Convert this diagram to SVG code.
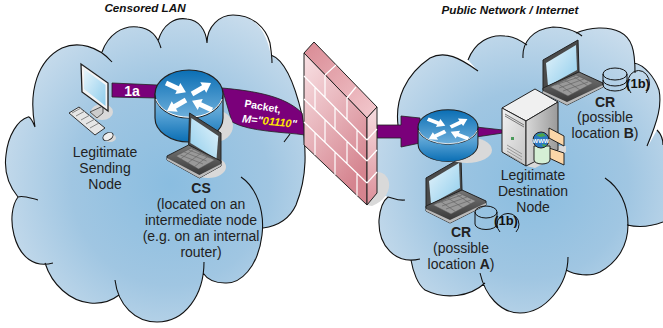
<svg xmlns="http://www.w3.org/2000/svg" xmlns:xlink="http://www.w3.org/1999/xlink" width="663" height="328" viewBox="0 0 663 328">
<style>
text{font-family:"Liberation Sans",Arial,sans-serif;font-size:14px;fill:#222;text-anchor:middle}
.b{font-weight:bold}
.t{font-weight:bold;font-style:italic;font-size:11.7px;fill:#111}
.lobe{fill:none;stroke:#111;stroke-width:1.1}
.sh{fill:#d9d9d9}
.band{fill:#7a007a;stroke:#222;stroke-width:.8}
.br{stroke:#fff;stroke-width:1.2;fill:none}
.db{fill:none;stroke:#111;stroke-width:1}
.one{font-weight:bold;font-size:13px;fill:#111}
</style>
<defs>
<radialGradient id="cl" cx=".55" cy=".55" r=".6"><stop offset="0" stop-color="#8abde0"/><stop offset=".55" stop-color="#a0c6e2"/><stop offset="1" stop-color="#c8dcec"/></radialGradient>
<linearGradient id="rt" x1="0" y1="0" x2="0" y2="1"><stop offset="0" stop-color="#0a6eb4"/><stop offset="1" stop-color="#6fb0dc"/></linearGradient>
<linearGradient id="rb" x1="0" y1="0" x2="0" y2="1"><stop offset="0" stop-color="#8cc0e2"/><stop offset=".5" stop-color="#4d9bd0"/><stop offset="1" stop-color="#0a6eb4"/></linearGradient>
<linearGradient id="scr" x1="0" y1="0" x2="1" y2="1"><stop offset="0" stop-color="#e6f4fb"/><stop offset="1" stop-color="#8fcdec"/></linearGradient>
<linearGradient id="lp" x1="0" y1="0" x2="0" y2="1"><stop offset="0" stop-color="#777"/><stop offset="1" stop-color="#333"/></linearGradient>
<linearGradient id="wf" x1="0" y1="0" x2=".5" y2="1"><stop offset="0" stop-color="#f9e2e5"/><stop offset="1" stop-color="#d5848f"/></linearGradient>
<linearGradient id="wt" x1="0" y1="0" x2="1" y2="1"><stop offset="0" stop-color="#d98a94"/><stop offset="1" stop-color="#f3c9ce"/></linearGradient>
<linearGradient id="ws" x1="0" y1="0" x2="0" y2="1"><stop offset="0" stop-color="#f6dde0"/><stop offset="1" stop-color="#dc8f99"/></linearGradient>
<linearGradient id="sv" x1="0" y1="0" x2="1" y2="0"><stop offset="0" stop-color="#d8d8d8"/><stop offset="1" stop-color="#9a9a9a"/></linearGradient>
<linearGradient id="sf" x1="0" y1="0" x2="1" y2="1"><stop offset="0" stop-color="#f2f2f2"/><stop offset="1" stop-color="#c4c4c4"/></linearGradient>
<g id="laptop">
<polygon points="0,20 35,0 36,32 3,50 0,50" fill="#4a4a4a" stroke="#222" stroke-width="1"/>
<polygon points="3,23 33,5 34,30 5,46" fill="url(#scr)"/>
<polygon points="0,48 36,32 60,43 60,47 24,65 0,53" fill="url(#lp)" stroke="#222" stroke-width="1"/>
<polygon points="7,47 33,35 50,43 25,56" fill="#999" stroke="#555" stroke-width=".5"/>
<path d="M12 45L36 37M16 48L41 39M20 51L45 42M14 43L30 54M22 40L37 50M30 36L45 46" stroke="#666" stroke-width=".7" fill="none"/>
<polygon points="0,51 24,62 60,45 60,47 24,65 0,53" fill="#bbb"/>
</g>
<g id="router">
<path d="M-34 0V24A34 24 0 0 0 34 24V0Z" fill="url(#rb)" stroke="#222" stroke-width="1.2"/>
<ellipse cx="0" cy="0" rx="34" ry="24" fill="url(#rt)" stroke="#222" stroke-width="1.2"/>
<path d="M-33 5A34 24 0 0 0 33 5" fill="none" stroke="#fff" stroke-width="1"/>
<g fill="#fff">
<polygon transform="translate(-23,-11) rotate(25)" points="0,-2.500 13,-2.500 13,-6 22,0 13,6 13,2.500 0,2.500"/>
<polygon transform="translate(3,0) rotate(-30)" points="0,-2.500 13,-2.500 13,-6 22,0 13,6 13,2.500 0,2.500"/>
<polygon transform="translate(-3,6) rotate(150)" points="0,-2.500 13,-2.500 13,-6 22,0 13,6 13,2.500 0,2.500"/>
<polygon transform="translate(23,16) rotate(205)" points="0,-2.500 13,-2.500 13,-6 22,0 13,6 13,2.500 0,2.500"/>
</g>
</g>
</defs>

<g id="cloud-left">
<path fill="url(#cl)" d="M35 127C28 90 38 60 62 48C78 41 98 46 112 62L102 52C108 35 122 25 138 27C148 28 157 34 161 48L158 41C163 24 175 17 187 19C199 20 206 30 207 43C207 26 220 15 233 15C253 15 268 28 272 63L271 55C285 60 295 85 302 115C306 150 308 175 296 205C290 218 278 226 263 228L241 177C256 187 265 210 262 235C258 268 240 284 225 283C215 283 207 279 203 273L204 262C204 295 185 322 157 322C135 322 118 305 115 280L119 295C110 302 100 304 90 303C70 301 52 285 45 263L53 263C35 268 20 258 14 235C10 220 12 205 18 197L38 200L18 197C8 185 4 170 6 155C8 135 18 120 28 117C30 116 33 122 35 127Z"/>
<path class="lobe" d="M35 127C28 90 38 60 62 48C78 41 98 46 112 62M102 52C108 35 122 25 138 27C148 28 157 34 161 48M158 41C163 24 175 17 187 19C199 20 206 30 207 43C207 26 220 15 233 15C253 15 266 28 270 43C271 50 272 56 272 63M271 55C285 60 295 85 302 115C306 150 308 175 296 205C290 218 278 226 263 228M241 177C256 187 265 210 262 235C258 268 240 284 225 283C215 283 207 279 203 273M204 262C204 295 185 322 157 322C135 322 118 305 115 280M119 295C110 302 100 304 90 303C70 301 52 285 45 263M53 263C35 268 20 258 14 235C10 220 12 205 18 197C23 195 30 198 38 200M18 197C8 185 4 170 6 155C8 135 18 120 28 117C30 116 33 122 35 127M284 142L290 134"/>
</g>
<g id="cloud-right">
<path fill="url(#cl)" d="M398 125C395 100 405 75 430 58C445 50 460 58 478 71L468 60C475 42 490 34 505 36C512 36 520 40 527 45L523 58C522 42 533 29 553 27C562 27 575 30 582 36L576 33C590 27 608 26 620 32C632 38 635 50 635 63C645 65 655 78 659 90C662 105 658 120 648 146L657 130C660 133 663 138 663 145L663 222C650 227 640 228 627 225L605 178C620 188 628 205 628 225C628 245 618 262 600 272C590 277 575 275 566 270L568 257C568 285 545 313 520 313C500 313 485 295 480 273L485 283C470 297 445 300 425 290C418 285 413 272 411 260L420 259C395 265 378 245 379 220C380 208 384 200 388 197L370 190L370 140Z"/>
<path class="lobe" d="M398 125C395 100 405 75 430 58C445 50 460 58 478 71M468 60C475 42 490 34 505 36C512 36 520 40 527 45M523 58C522 42 533 29 553 27C562 27 575 30 582 36M576 33C590 27 608 26 620 32C632 38 635 50 635 73M634 63C645 65 655 78 659 90C662 105 658 120 647 146M657 130C660 133 663 138 663 145M663 222C650 227 640 228 627 225M605 178C620 188 628 205 628 225C628 245 618 262 600 272C590 277 575 275 566 270M568 257C568 285 545 313 520 313C500 313 485 295 480 273M485 283C470 297 445 300 425 290C418 285 413 272 411 260M420 259C395 265 378 245 379 220C380 208 384 200 388 197C393 198 398 201 405 200"/>
</g>

<g id="connectors">
<polygon class="band" points="112,83 157,85 157,98 112,97"/>
<path class="band" d="M222 88C255 91 285 96 302 113L305 135C285 132 250 132 232 122Z"/>
<polygon class="band" points="377,125 401,125 401,116 420,118 420,143 401,147 401,138 377,138"/>
<polygon class="band" points="476,127 503,130 503,133 476,137"/>
<text x="132" y="96" class="b" style="fill:#fff;font-size:14px">1a</text>
<text transform="translate(262,110) rotate(10)" class="b" style="fill:#fff;font-size:10.500px">Packet,</text>
<text transform="translate(269,125) rotate(6)" class="b" style="fill:#fff;font-size:11px;font-style:italic">M="<tspan style="fill:#ffe600">01110</tspan>"</text>
</g>

<g id="firewall">
<path class="sh" d="M377 172C392 172 396 196 372 206L366 205Z"/>
<polygon points="304,53 314,42 377,107 367,118" fill="url(#wt)" stroke="#222" stroke-width="1"/>
<polygon points="304,53 367,118 367,205 304,145" fill="url(#wf)" stroke="#222" stroke-width="1"/>
<polygon points="367,118 377,107 377,193 367,205" fill="url(#ws)" stroke="#222" stroke-width="1"/>
<path class="br" d="M304 76L367 140M304 99L367 161M304 122L367 183M325 75V97M347 97V120M315 87V110M335 107V130M357 130V152M325 120V142M347 142V164M315 133V155M335 152V175M357 174V196M336 65L325 75M356 87L347 98M367 140L377 129M367 161L377 150M367 183L377 172"/>
</g>

<g id="router-left">
<ellipse class="sh" cx="215" cy="126" rx="18" ry="16"/>
<use xlink:href="#router" href="#router" transform="translate(189,94)"/>
</g>
<g id="laptop-cs">
<ellipse class="sh" cx="208" cy="167" rx="18" ry="11"/>
<use xlink:href="#laptop" href="#laptop" transform="translate(221,113) scale(-.9,1)"/>
</g>
<g id="sending-node">
<ellipse class="sh" cx="102" cy="112" rx="11" ry="8"/>
<ellipse class="sh" cx="110" cy="138" rx="6" ry="4"/>
<polygon points="90,112 103,106 103,113 97,118" fill="#ccc" stroke="#333" stroke-width=".8"/>
<polygon points="81,64 108,83 108,111 82,92" fill="#f4f4f4" stroke="#222" stroke-width="1.300"/>
<polygon points="84,69 105.500,85 105.500,106 84,89" fill="url(#scr)"/>
<polygon points="69,113 79,107 105,128 95,135" fill="#e6e6e6" stroke="#222" stroke-width=".9"/>
<path d="M72 113L81 108M76 116L85 111M81 120L90 115M86 124L95 119M90 128L99 123" stroke="#888" fill="none"/>
<ellipse cx="108" cy="136.500" rx="5.500" ry="3.500" transform="rotate(-30 108 136.500)" fill="#eee" stroke="#222" stroke-width=".9"/>
<text x="105" y="157">Legitimate</text><text x="105" y="173">Sending</text><text x="105" y="189">Node</text>
</g>
<g id="censor-label">
<text x="201" y="193" class="b">CS</text>
<text x="201" y="209">(located on an</text>
<text x="201" y="225">intermediate node</text>
<text x="201" y="241">(e.g. on an internal</text>
<text x="201" y="257">router)</text>
</g>

<g id="receiver-a">
<use xlink:href="#laptop" href="#laptop" transform="translate(426,158)"/>
<path class="db" d="M475 212V224A11 5.500 0 0 0 497 224V212"/><ellipse class="db" cx="486" cy="212" rx="11" ry="6"/>
<path class="db" d="M500 232A11 11 0 1 1 516 232"/>
<text x="506" y="225" class="one">(1b)</text>
<text x="461" y="237" class="b">CR</text><text x="461" y="253">(possible</text>
<text x="461" y="269">location <tspan class="b">A</tspan>)</text>
</g>
<g id="router-right">
<ellipse class="sh" cx="467" cy="150" rx="25" ry="13"/>
<use xlink:href="#router" href="#router" transform="translate(448,127) scale(.88,.72)"/>
</g>
<g id="destination-node">
<polygon class="sh" points="526,166 535,168 566,152 566,146 558,146"/>
<polygon points="502,108 535,89 558,102 526,121" fill="#f0f0f0" stroke="#222" stroke-width="1"/>
<polygon points="502,108 526,121 526,166 502,152" fill="url(#sf)" stroke="#222" stroke-width="1"/>
<polygon points="526,121 558,102 558,150 526,166" fill="url(#sv)" stroke="#222" stroke-width="1"/>
<path d="M505 114L524 125M505 116L524 127" stroke="#777" fill="none"/>
<rect x="511" y="137" width="3" height="3" fill="#4a9a5a"/>
<path d="M507 145L522 154M507 148L522 157M507 151L522 160M507 154L522 163" stroke="#999" fill="none"/>
<polygon points="549,128 564,136 564,146 549,138" fill="#fbd6a8" stroke="#222"/>
<polygon points="549,148 564,153 564,165 549,158" fill="#fbd6a8" stroke="#222"/>
<path d="M534 146V160A8 4 0 0 0 550 160V146Z" fill="#d5efd5" stroke="#222"/>
<circle cx="541" cy="140" r="8" fill="#2b78c2" stroke="#222"/>
<path d="M536 135L543 133L546 136L540 137ZM542 144L547 145L543 147Z" fill="#4aa64a"/>
<text x="541" y="142.500" class="b" style="fill:#fff;font-size:6px">WWW</text>
<text x="533" y="180">Legitimate</text><text x="533" y="196">Destination</text><text x="533" y="212">Node</text>
</g>
<g id="receiver-b">
<use xlink:href="#laptop" href="#laptop" transform="translate(543,40)"/>
<path class="db" d="M603 74V85A12 6 0 0 0 627 85V74M603 80A12 6 0 0 0 627 80"/><ellipse class="db" cx="615" cy="74" rx="12" ry="6"/>
<path class="db" d="M631 93A11 13 0 1 1 646 93"/>
<text x="638" y="88" class="one">(1b)</text>
<text x="605" y="107" class="b">CR</text><text x="605" y="122">(possible</text>
<text x="605" y="138">location <tspan class="b">B</tspan>)</text>
</g>
<g id="titles">
<text x="145" y="12" class="t">Censored LAN</text>
<text x="510" y="14" class="t">Public Network / Internet</text>
</g>
</svg>
